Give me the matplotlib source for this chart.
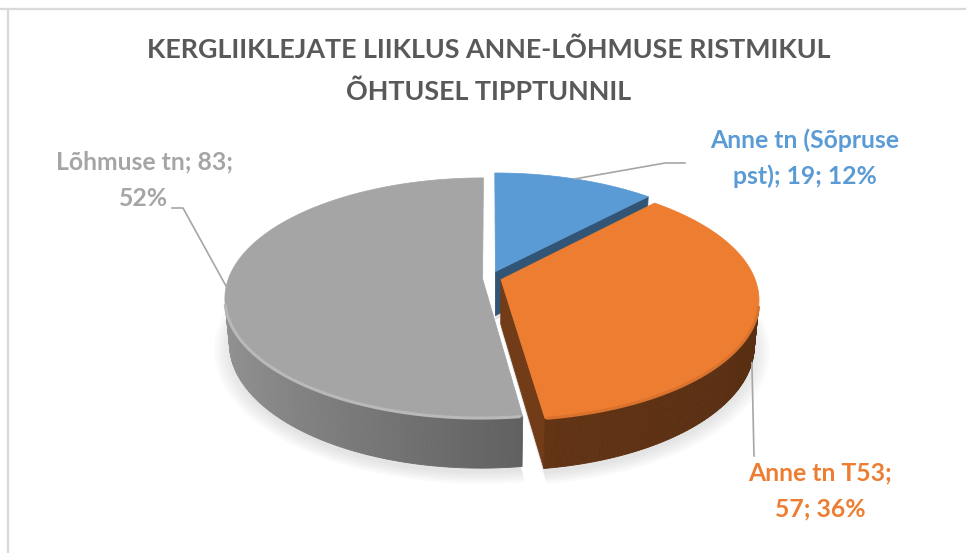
import numpy as np
import matplotlib
matplotlib.use("Agg")
import matplotlib.pyplot as plt
from matplotlib.patches import Polygon
from matplotlib.colors import to_rgb

title_lines = ["KERGLIIKLEJATE LIIKLUS ANNE-LÕHMUSE RISTMIKUL", "ÕHTUSEL TIPPTUNNIL"]
names = ["Anne tn (Sõpruse pst)", "Anne tn T53", "Lõhmuse tn"]
values = [19, 57, 83]
colors = ["#5B9BD5", "#ED7D31", "#A5A5A5"]
explode = [0.06, 0.045, 0.03]

plt.rcParams['font.family'] = ['Lato', 'DejaVu Sans']

W, H = 966, 553
fig = plt.figure(figsize=(W / 100, H / 100), dpi=100)
ax = fig.add_axes([0, 0, 1, 1])
ax.set_xlim(0, W)
ax.set_ylim(H, 0)
ax.axis('off')

# simple perspective camera for the "3d" pie
elev = np.radians(27.4)
dist = 5.4
focal = 1370
cx, cy = 490, 278
thick = 0.2
cam = np.array([0, -dist * np.cos(elev), dist * np.sin(elev)])


def project(u, v, z):
    u = np.asarray(u, float)
    v = np.asarray(v, float)
    z = np.asarray(z, float)
    d = v * np.cos(elev) - z * np.sin(elev) + dist
    return cx + focal * u / d, cy - focal * (v * np.sin(elev) + z * np.cos(elev)) / d


def depth(u, v, z):
    return v * np.cos(elev) - z * np.sin(elev) + dist


def shade(c, k):
    r, g, b = to_rgb(c)
    return (min(r * k, 1), min(g * k, 1), min(b * k, 1))


# wall shading per slice: level, side-to-side change
wall_a = [0.5, 0.42, 0.62]
wall_b = [0.1, 0.05, 0.27]
side_k = [0.55, 0.48, 0.55]
rim_k = [1.0, 0.92, 1.12]

fracs = np.array(values) / sum(values)
edges = np.concatenate([[0], np.cumsum(fracs)]) * 2 * np.pi

walls = []
tops = []
rims = []
offsets = []
for i in range(len(values)):
    t0, t1 = edges[i], edges[i + 1]
    mid = (t0 + t1) / 2
    du, dv = explode[i] * np.sin(mid), explode[i] * np.cos(mid)
    offsets.append((du, dv, mid))
    ts = np.linspace(t0, t1, 240)

    uu = np.concatenate([[du], du + np.sin(ts)])
    vv = np.concatenate([[dv], dv + np.cos(ts)])
    tops.append((np.column_stack(project(uu, vv, 0)), colors[i]))

    vis = []
    for a, b in zip(ts[:-1], ts[1:]):
        m = (a + b) / 2
        p = np.array([du + np.sin(m), dv + np.cos(m), -thick / 2])
        n = np.array([np.sin(m), np.cos(m), 0])
        if np.dot(n, cam - p) <= 0:
            continue
        vis.append(m)
        us = du + np.sin([a, b, b, a])
        vs = dv + np.cos([a, b, b, a])
        zs = [0, 0, -thick, -thick]
        k = wall_a[i] - wall_b[i] * np.sin(m)
        walls.append((depth(p[0], p[1], p[2]), np.column_stack(project(us, vs, zs)), shade(colors[i], k)))
    if vis:
        vis = np.array(vis)
        rims.append((np.column_stack(project(du + np.sin(vis), dv + np.cos(vis), 0)), shade(colors[i], rim_k[i])))

    # flat cut faces
    for t, sgn in ((t0, -1), (t1, 1)):
        n = sgn * np.array([np.cos(t), -np.sin(t), 0])
        p = np.array([du + 0.5 * np.sin(t), dv + 0.5 * np.cos(t), -thick / 2])
        if np.dot(n, cam - p) <= 0.05:
            continue
        us = [du, du + np.sin(t), du + np.sin(t), du]
        vs = [dv, dv + np.cos(t), dv + np.cos(t), dv]
        zs = [0, 0, -thick, -thick]
        walls.append((depth(p[0], p[1], p[2]), np.column_stack(project(us, vs, zs)), shade(colors[i], side_k[i])))

# soft shadow under the pie
for s in range(6):
    r = 1.0 + 0.012 * s
    for i in range(len(values)):
        du, dv, mid = offsets[i]
        ts = np.linspace(edges[i], edges[i + 1], 120)
        uu = np.concatenate([[du], du + r * np.sin(ts)])
        vv = np.concatenate([[dv], dv + r * np.cos(ts)])
        ax.add_patch(Polygon(np.column_stack(project(uu, vv, -thick - 0.02)), closed=True,
                             facecolor='#7f7f7f', edgecolor='none', alpha=0.035, zorder=1))

walls.sort(key=lambda w: -w[0])
for d, xy, c in walls:
    ax.add_patch(Polygon(xy, closed=True, facecolor=c, edgecolor=c, lw=0.6, zorder=2))
for xy, c in tops:
    ax.add_patch(Polygon(xy, closed=True, facecolor=c, edgecolor=c, lw=0.5, zorder=3))
for xy, c in rims:
    ax.plot(xy[:, 0], xy[:, 1], color=c, lw=2.2, solid_capstyle='butt', zorder=4)

# title
ax.text(489, 50, title_lines[0], ha='center', va='center', fontsize=19.4,
        fontweight='bold', color='#595959')
ax.text(489, 92, title_lines[1], ha='center', va='center', fontsize=19.4,
        fontweight='bold', color='#595959')

# data labels: "name; value; pct%" wrapped after 3 words
label_pos = [(805, 140), (820, 473), (144, 162)]
leader_ends = [[(665, 163), (685, 163)], [(754, 456)], [(183, 208), (172, 208)]]
anchor_z = [0, -thick, 0]
for i in range(len(values)):
    words = f"{names[i]}; {values[i]}; {fracs[i] * 100:.0f}%".split()
    lx, ly = label_pos[i]
    ax.text(lx, ly, " ".join(words[:3]), ha='center', va='center', fontsize=17.8,
            fontweight='bold', color=colors[i])
    ax.text(lx, ly + 36, " ".join(words[3:]), ha='center', va='center', fontsize=17.8,
            fontweight='bold', color=colors[i])
    du, dv, mid = offsets[i]
    ax0, ay0 = project(du + np.sin(mid), dv + np.cos(mid), anchor_z[i])
    pts = [(float(ax0), float(ay0))] + leader_ends[i]
    ax.plot([p[0] for p in pts], [p[1] for p in pts], color='#a6a6a6', lw=1.2, zorder=5)

# chart frame (only top and left show)
ax.plot([0, W], [9, 9], color='#d9d9d9', lw=1.6, zorder=0)
ax.plot([8, 8], [9, H], color='#d9d9d9', lw=1.6, zorder=0)

fig.savefig("out.png", dpi=100)
